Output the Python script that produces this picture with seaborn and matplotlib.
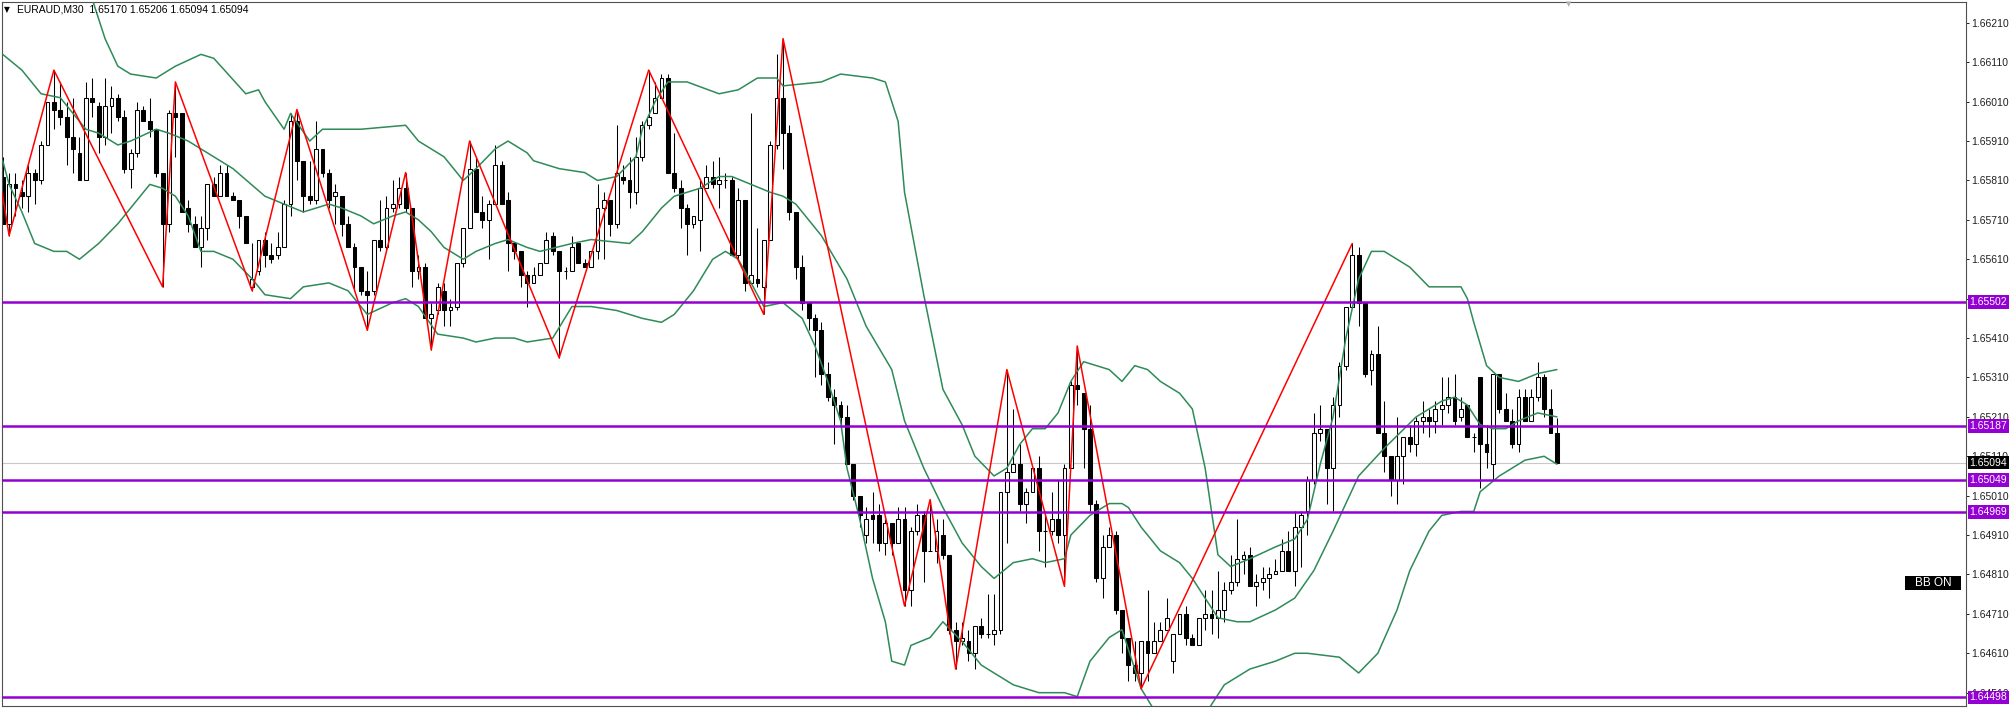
import matplotlib
matplotlib.use("Agg")
import numpy as np
import pandas as pd
import matplotlib.pyplot as plt
import matplotlib.transforms as mtransforms
from matplotlib.patches import Rectangle
import seaborn as sns

# EURAUD M30 candles (oldest -> newest)
opens = [
    1.6582, 1.6570, 1.6580, 1.6578, 1.6577, 1.6583, 1.6581, 1.6590, 1.6601, 1.6599,
    1.6597, 1.6592, 1.6588, 1.6581, 1.6602, 1.6600, 1.6592, 1.6600, 1.6602, 1.6597,
    1.6584, 1.6588, 1.6599, 1.6596, 1.6594, 1.6583, 1.6570, 1.6598, 1.6598, 1.6574,
    1.6570, 1.6564, 1.6569, 1.6580, 1.6577, 1.6583, 1.6577, 1.6576, 1.6572, 1.6554,
    1.6558, 1.6566, 1.6562, 1.6562, 1.6564, 1.6575, 1.6596, 1.6586, 1.6577, 1.6576,
    1.6589, 1.6583, 1.6577, 1.6577, 1.6570, 1.6564, 1.6559, 1.6553, 1.6553, 1.6566,
    1.6564, 1.6574, 1.6575, 1.6579, 1.6574, 1.6558, 1.6559, 1.6546, 1.6548, 1.6553,
    1.6548, 1.6549, 1.6560, 1.6569, 1.6584, 1.6573, 1.6571, 1.6575, 1.6585, 1.6576,
    1.6565, 1.6563, 1.6557, 1.6555, 1.6557, 1.6560, 1.6567, 1.6563, 1.6558, 1.6558,
    1.6565, 1.6560, 1.6559, 1.6563, 1.6574, 1.6576, 1.6570, 1.6582, 1.6581, 1.6578,
    1.6587, 1.6595, 1.6598, 1.6602, 1.6607, 1.6583, 1.6579, 1.6574, 1.6570, 1.6571,
    1.6579, 1.6582, 1.6580, 1.6581, 1.6581, 1.6562, 1.6576, 1.6555, 1.6556, 1.6554,
    1.6566, 1.6590, 1.6602, 1.6593, 1.6573, 1.6559, 1.6550, 1.6546, 1.6543, 1.6532,
    1.6526, 1.6524, 1.6521, 1.6509, 1.6501, 1.6491, 1.6496, 1.6496, 1.6489, 1.6494,
    1.6489, 1.6495, 1.6477, 1.6492, 1.6496, 1.6487, 1.6487, 1.6491, 1.6486, 1.6467,
    1.6464, 1.6464, 1.6461, 1.6468, 1.6466, 1.6466, 1.6467, 1.6502, 1.6507, 1.6509,
    1.6499, 1.6502, 1.6508, 1.6492, 1.6492, 1.6495, 1.6491, 1.6508, 1.6529, 1.6527,
    1.6518, 1.6499, 1.6480, 1.6488, 1.6491, 1.6472, 1.6465, 1.6458, 1.6456, 1.6464,
    1.6461, 1.6464, 1.6467, 1.6459, 1.6466, 1.6471, 1.6465, 1.6463, 1.6470, 1.6471,
    1.6470, 1.6472, 1.6477, 1.6479, 1.6485, 1.6486, 1.6478, 1.6479, 1.6480, 1.6481,
    1.6482, 1.6487, 1.6482, 1.6493, 1.6497, 1.6505, 1.6517, 1.6518, 1.6508, 1.6524,
    1.6534, 1.6549, 1.6562, 1.6550, 1.6533, 1.6537, 1.6517, 1.6511, 1.6505, 1.6511,
    1.6516, 1.6514, 1.6520, 1.6521, 1.6520, 1.6523, 1.6524, 1.6526, 1.6521, 1.6524,
    1.6516, 1.6531, 1.6514, 1.6509, 1.6532, 1.6523, 1.6520, 1.6514, 1.6526, 1.6520,
    1.6526, 1.6531, 1.6523, 1.65170,
]
highs = [
    1.6587, 1.6583, 1.6583, 1.6581, 1.6585, 1.6584, 1.6591, 1.6601, 1.6609, 1.6606,
    1.6601, 1.6602, 1.6592, 1.6606, 1.6607, 1.6601, 1.6607, 1.6605, 1.6603, 1.6599,
    1.6589, 1.6601, 1.6600, 1.6602, 1.6594, 1.6583, 1.6599, 1.6606, 1.6598, 1.6576,
    1.6572, 1.6572, 1.6580, 1.6582, 1.6585, 1.6585, 1.6578, 1.6576, 1.6572, 1.6565,
    1.6566, 1.6568, 1.6565, 1.6568, 1.6576, 1.6598, 1.6599, 1.6586, 1.6586, 1.6596,
    1.6589, 1.6584, 1.6580, 1.6577, 1.6572, 1.6565, 1.6559, 1.6558, 1.6566, 1.6576,
    1.6577, 1.6581, 1.6582, 1.6583, 1.6574, 1.6562, 1.6560, 1.6550, 1.6555, 1.6555,
    1.6551, 1.6560, 1.6569, 1.6591, 1.6587, 1.6577, 1.6576, 1.6590, 1.6586, 1.6578,
    1.6565, 1.6563, 1.6558, 1.6559, 1.6560, 1.6568, 1.6568, 1.6563, 1.6559, 1.6567,
    1.6565, 1.6561, 1.6563, 1.6580, 1.6578, 1.6576, 1.6595, 1.6585, 1.6587, 1.6592,
    1.6596, 1.6609, 1.6606, 1.6608, 1.6608, 1.6593, 1.6581, 1.6575, 1.6572, 1.6581,
    1.6585, 1.6586, 1.6587, 1.6583, 1.6582, 1.6579, 1.6576, 1.6598, 1.6569, 1.6566,
    1.6591, 1.6613, 1.6617, 1.6595, 1.6573, 1.6562, 1.6550, 1.6547, 1.6545, 1.6535,
    1.6528, 1.6525, 1.6524, 1.6509, 1.6501, 1.6498, 1.6502, 1.6499, 1.6495, 1.6494,
    1.6498, 1.6498, 1.6493, 1.6499, 1.6497, 1.6500, 1.6495, 1.6495, 1.6486, 1.6469,
    1.6469, 1.6467, 1.6468, 1.6470, 1.6476, 1.6476, 1.6502, 1.6533, 1.6523, 1.6514,
    1.6503, 1.6508, 1.6511, 1.6497, 1.6502, 1.6505, 1.6509, 1.6530, 1.6539, 1.6527,
    1.6524, 1.6500, 1.6491, 1.6493, 1.6492, 1.6472, 1.6465, 1.6464, 1.6464, 1.6477,
    1.6469, 1.6469, 1.6475, 1.6466, 1.6471, 1.6473, 1.6466, 1.6470, 1.6477, 1.6477,
    1.6482, 1.6479, 1.6486, 1.6495, 1.6487, 1.6488, 1.6481, 1.6483, 1.6483, 1.6485,
    1.6490, 1.6492, 1.6497, 1.6497, 1.6506, 1.6522, 1.6524, 1.6518, 1.6526, 1.6535,
    1.6549, 1.6565, 1.6564, 1.6550, 1.6538, 1.6544, 1.6525, 1.6511, 1.6521, 1.6516,
    1.6519, 1.6521, 1.6525, 1.6523, 1.6525, 1.6531, 1.6531, 1.6532, 1.6526, 1.6524,
    1.6517, 1.6531, 1.6519, 1.6532, 1.6532, 1.6527, 1.6523, 1.6528, 1.6528, 1.6528,
    1.6535, 1.6532, 1.6528, 1.65206,
]
lows = [
    1.6570, 1.6567, 1.6572, 1.6574, 1.6573, 1.6575, 1.6580, 1.6590, 1.6594, 1.6595,
    1.6585, 1.6583, 1.6581, 1.6581, 1.6597, 1.6588, 1.6590, 1.6593, 1.6596, 1.6583,
    1.6579, 1.6587, 1.6596, 1.6592, 1.6582, 1.6554, 1.6568, 1.6587, 1.6573, 1.6568,
    1.6564, 1.6559, 1.6566, 1.6577, 1.6577, 1.6577, 1.6576, 1.6569, 1.6565, 1.6553,
    1.6557, 1.6559, 1.6560, 1.6561, 1.6564, 1.6572, 1.6581, 1.6573, 1.6575, 1.6575,
    1.6582, 1.6574, 1.6570, 1.6567, 1.6564, 1.6553, 1.6552, 1.6543, 1.6552, 1.6563,
    1.6563, 1.6573, 1.6574, 1.6573, 1.6554, 1.6556, 1.6546, 1.6538, 1.6547, 1.6544,
    1.6544, 1.6548, 1.6559, 1.6569, 1.6573, 1.6569, 1.6561, 1.6575, 1.6575, 1.6558,
    1.6561, 1.6554, 1.6549, 1.6555, 1.6557, 1.6560, 1.6562, 1.6536, 1.6556, 1.6558,
    1.6560, 1.6559, 1.6559, 1.6561, 1.6561, 1.6567, 1.6569, 1.6580, 1.6574, 1.6575,
    1.6586, 1.6594, 1.6598, 1.6602, 1.6583, 1.6578, 1.6569, 1.6562, 1.6569, 1.6563,
    1.6579, 1.6579, 1.6574, 1.6579, 1.6562, 1.6561, 1.6553, 1.6555, 1.6554, 1.6547,
    1.6566, 1.6589, 1.6584, 1.6571, 1.6556, 1.6548, 1.6543, 1.6531, 1.6529, 1.6525,
    1.6514, 1.6518, 1.6509, 1.6500, 1.6493, 1.6489, 1.6489, 1.6487, 1.6486, 1.6486,
    1.6489, 1.6473, 1.6473, 1.6491, 1.6479, 1.6487, 1.6484, 1.6485, 1.6466, 1.6457,
    1.6463, 1.6459, 1.6457, 1.6465, 1.6465, 1.6463, 1.6466, 1.6489, 1.6507, 1.6497,
    1.6494, 1.6502, 1.6487, 1.6483, 1.6491, 1.6489, 1.6478, 1.6508, 1.6524, 1.6508,
    1.6497, 1.6479, 1.6475, 1.6488, 1.6471, 1.6461, 1.6454, 1.6454, 1.6452, 1.6454,
    1.6461, 1.6464, 1.6467, 1.6456, 1.6466, 1.6463, 1.6463, 1.6463, 1.6467, 1.6466,
    1.6465, 1.6469, 1.6476, 1.6478, 1.6481, 1.6478, 1.6473, 1.6477, 1.6475, 1.6481,
    1.6482, 1.6482, 1.6478, 1.6483, 1.6491, 1.6504, 1.6515, 1.6499, 1.6497, 1.6521,
    1.6533, 1.6549, 1.6544, 1.6531, 1.6529, 1.6517, 1.6507, 1.6501, 1.6499, 1.6504,
    1.6512, 1.6511, 1.6517, 1.6516, 1.6517, 1.6519, 1.6522, 1.6519, 1.6520, 1.6516,
    1.6512, 1.6503, 1.6508, 1.6505, 1.6522, 1.6520, 1.6513, 1.6512, 1.6520, 1.6520,
    1.6525, 1.6521, 1.6517, 1.65094,
]
closes = [
    1.6570, 1.6580, 1.6579, 1.6577, 1.6583, 1.6581, 1.6590, 1.6601, 1.6599, 1.6597,
    1.6592, 1.6589, 1.6581, 1.6602, 1.6601, 1.6592, 1.6600, 1.6602, 1.6597, 1.6584,
    1.6588, 1.6599, 1.6596, 1.6594, 1.6583, 1.6570, 1.6598, 1.6597, 1.6573, 1.6570,
    1.6564, 1.6569, 1.6580, 1.6577, 1.6583, 1.6577, 1.6576, 1.6572, 1.6565, 1.6556,
    1.6566, 1.6562, 1.6561, 1.6564, 1.6575, 1.6596, 1.6586, 1.6577, 1.6576, 1.6589,
    1.6583, 1.6576, 1.6578, 1.6570, 1.6564, 1.6559, 1.6553, 1.6552, 1.6566, 1.6564,
    1.6574, 1.6575, 1.6579, 1.6574, 1.6558, 1.6559, 1.6546, 1.6547, 1.6554, 1.6548,
    1.6549, 1.6560, 1.6569, 1.6584, 1.6573, 1.6571, 1.6575, 1.6585, 1.6575, 1.6565,
    1.6563, 1.6557, 1.6555, 1.6557, 1.6560, 1.6566, 1.6563, 1.6558, 1.6558, 1.6564,
    1.6560, 1.6559, 1.6563, 1.6574, 1.6576, 1.6570, 1.6583, 1.6581, 1.6578, 1.6587,
    1.6595, 1.6597, 1.6602, 1.6607, 1.6583, 1.6579, 1.6574, 1.6570, 1.6572, 1.6579,
    1.6582, 1.6580, 1.6581, 1.6581, 1.6562, 1.6576, 1.6555, 1.6557, 1.6555, 1.6566,
    1.6590, 1.6602, 1.6593, 1.6573, 1.6559, 1.6550, 1.6546, 1.6543, 1.6532, 1.6526,
    1.6524, 1.6521, 1.6509, 1.6501, 1.6496, 1.6495, 1.6495, 1.6489, 1.6494, 1.6489,
    1.6495, 1.6477, 1.6492, 1.6496, 1.6487, 1.6487, 1.6492, 1.6486, 1.6467, 1.6464,
    1.6465, 1.6461, 1.6468, 1.6466, 1.6466, 1.6467, 1.6502, 1.6507, 1.6509, 1.6499,
    1.6502, 1.6508, 1.6492, 1.6492, 1.6495, 1.6491, 1.6508, 1.6529, 1.6528, 1.6518,
    1.6499, 1.6480, 1.6488, 1.6491, 1.6472, 1.6465, 1.6458, 1.6456, 1.6464, 1.6461,
    1.6464, 1.6467, 1.6470, 1.6466, 1.6471, 1.6465, 1.6463, 1.6470, 1.6471, 1.6470,
    1.6472, 1.6477, 1.6479, 1.6485, 1.6486, 1.6478, 1.6479, 1.6480, 1.6481, 1.6482,
    1.6487, 1.6482, 1.6493, 1.6496, 1.6505, 1.6517, 1.6518, 1.6508, 1.6524, 1.6534,
    1.6549, 1.6562, 1.6550, 1.6532, 1.6537, 1.6517, 1.6511, 1.6505, 1.6511, 1.6516,
    1.6514, 1.6520, 1.6521, 1.6520, 1.6523, 1.6524, 1.6526, 1.6520, 1.6523, 1.6516,
    1.6516, 1.6514, 1.6512, 1.6532, 1.6523, 1.6520, 1.6514, 1.6526, 1.6520, 1.6526,
    1.6531, 1.6523, 1.6517, 1.65094,
]

# Bollinger bands (read at sample bars)
upper_bar = [0, 7, 14, 16, 18, 20, 24, 27, 31, 33, 38, 40, 41, 44, 45, 48, 50, 56, 63, 65,
             69, 72, 74, 77, 79, 82, 83, 87, 91, 93, 96, 99, 100, 102, 104, 107, 112, 115, 118, 121,
             122, 128, 131, 136, 138, 140, 141, 144, 147, 150, 152, 155, 157, 159, 161, 163, 165, 167, 169, 173,
             175, 177, 179, 181, 184, 186, 188, 190, 192, 195, 199, 202, 204, 206, 208, 210, 212, 214, 216, 220,
             223, 228, 229, 230, 232, 234, 237, 240, 243]
upper = [1.6640, 1.6642, 1.6627, 1.6617, 1.6610, 1.6608, 1.6607, 1.6610, 1.6613, 1.6612,
         1.6603, 1.6604, 1.6601, 1.6594, 1.6598, 1.6591, 1.6594, 1.6594, 1.6595, 1.6591,
         1.6587, 1.6581, 1.6584, 1.6589, 1.6591, 1.6588, 1.6586, 1.6584, 1.6583, 1.6581,
         1.6582, 1.6587, 1.6594, 1.6601, 1.6606, 1.6606, 1.6603, 1.6604, 1.6607, 1.6607,
         1.6605, 1.6606, 1.6608, 1.6607, 1.6606, 1.6596, 1.6578, 1.6552, 1.6528, 1.6519,
         1.6511, 1.6506, 1.6508, 1.6514, 1.6518, 1.6518, 1.6522, 1.6530, 1.6535, 1.6533,
         1.6530, 1.6534, 1.6533, 1.6530, 1.6527, 1.6523, 1.6508, 1.6486, 1.6483, 1.6485,
         1.6488, 1.6490, 1.6495, 1.6509, 1.6521, 1.6541, 1.6556, 1.6563, 1.6563, 1.6559,
         1.6554, 1.6554, 1.6551, 1.6545, 1.6534, 1.6531, 1.6530, 1.6532, 1.6533]
mid_bar = [0, 3, 6, 9, 13, 15, 18, 20, 24, 26, 29, 33, 36, 41, 47, 51, 53, 56, 58, 61,
           63, 65, 67, 69, 72, 74, 77, 79, 82, 84, 89, 92, 98, 100, 103, 105, 109, 112, 114, 117,
           120, 122, 124, 128, 132, 135, 139, 141, 144, 147, 150, 153, 155, 158, 161, 163, 166, 167, 170, 173,
           175, 176, 178, 181, 184, 186, 188, 190, 193, 195, 199, 202, 205, 208, 212, 216, 221, 225, 227, 229,
           231, 233, 235, 237, 240, 243]
mid = [1.6613, 1.6609, 1.6603, 1.6602, 1.6594, 1.6593, 1.6590, 1.6591, 1.6594, 1.6593,
       1.6591, 1.6587, 1.6584, 1.6577, 1.6573, 1.6575, 1.6574, 1.6572, 1.6570, 1.6572,
       1.6573, 1.6571, 1.6568, 1.6564, 1.6561, 1.6563, 1.6565, 1.6566, 1.6564, 1.6563,
       1.6565, 1.6566, 1.6565, 1.6568, 1.6574, 1.6577, 1.6579, 1.6582, 1.6582, 1.6580,
       1.6578, 1.6577, 1.6575, 1.6567, 1.6556, 1.6544, 1.6533, 1.6520, 1.6508, 1.6498,
       1.6489, 1.6483, 1.6480, 1.6484, 1.6485, 1.6484, 1.6485, 1.6491, 1.6496, 1.6499,
       1.6499, 1.6498, 1.6493, 1.6487, 1.6484, 1.6480, 1.6475, 1.6470, 1.6469, 1.6469,
       1.6472, 1.6475, 1.6482, 1.6492, 1.6506, 1.6513, 1.6521, 1.6525, 1.6526, 1.6524,
       1.6519, 1.6518, 1.6518, 1.6520, 1.6522, 1.6521]
lower_bar = [0, 1, 3, 5, 8, 10, 12, 15, 18, 20, 23, 25, 27, 29, 31, 33, 36, 39, 41, 45,
             47, 51, 54, 56, 57, 61, 63, 65, 68, 72, 74, 77, 80, 82, 86, 89, 92, 96, 100, 103,
             105, 108, 111, 113, 115, 117, 119, 122, 125, 127, 129, 131, 132, 134, 136, 138, 139, 141, 142, 145,
             147, 150, 153, 158, 162, 166, 168, 170, 173, 175, 178, 181, 186, 189, 191, 193, 195, 199, 202, 204,
             209, 212, 215, 218, 220, 223, 225, 228, 230, 231, 234, 236, 238, 241, 243]
lower = [1.6586, 1.6580, 1.6573, 1.6565, 1.6563, 1.6563, 1.6561, 1.6565, 1.6570, 1.6574,
         1.6580, 1.6579, 1.6577, 1.6572, 1.6563, 1.6563, 1.6561, 1.6556, 1.6552, 1.6551,
         1.6554, 1.6555, 1.6553, 1.6549, 1.6547, 1.6550, 1.6551, 1.6549, 1.6542, 1.6541,
         1.6540, 1.6541, 1.6541, 1.6540, 1.6541, 1.6549, 1.6549, 1.6548, 1.6546, 1.6545,
         1.6547, 1.6553, 1.6561, 1.6563, 1.6561, 1.6555, 1.6549, 1.6550, 1.6546, 1.6539,
         1.6530, 1.6520, 1.6508, 1.6495, 1.6480, 1.6469, 1.6459, 1.6458, 1.6463, 1.6465,
         1.6469, 1.6464, 1.6458, 1.6453, 1.6451, 1.6451, 1.6450, 1.6459, 1.6465, 1.6467,
         1.6452, 1.6444, 1.6439, 1.6448, 1.6453, 1.6455, 1.6457, 1.6459, 1.6461, 1.6461,
         1.6460, 1.6456, 1.6461, 1.6472, 1.6482, 1.6492, 1.6496, 1.6497, 1.6497, 1.6502,
         1.6506, 1.6508, 1.6510, 1.6511, 1.6509]

# zigzag pivots
zz_bar = [-0.1, 1, 8, 25, 27, 39, 46, 57, 63, 67, 73, 87, 101, 119, 122, 141, 145, 149, 157, 166, 168, 178, 211]
zz_price = [1.6578, 1.6567, 1.6609, 1.6554, 1.6606, 1.6553, 1.6599, 1.6543, 1.6583, 1.6538, 1.6591, 1.6536,
            1.6609, 1.6547, 1.6617, 1.6473, 1.6500, 1.6457, 1.6533, 1.6478, 1.6539, 1.6452, 1.6565]

levels = [1.65502, 1.65187, 1.65049, 1.64969, 1.64498]
last_price = 1.65094
y_ticks = [1.66210, 1.66110, 1.66010, 1.65910, 1.65810, 1.65710, 1.65610, 1.65510, 1.65410,
           1.65310, 1.65210, 1.65110, 1.65010, 1.64910, 1.64810, 1.64710, 1.64610, 1.64510]
title = "EURAUD,M30  1.65170 1.65206 1.65094 1.65094"

df = pd.DataFrame({"open": opens, "high": highs, "low": lows, "close": closes})
df["bar"] = np.arange(len(df))
df["up"] = df["close"] >= df["open"]

sns.set_style("white")
plt.rcParams["font.family"] = ["Liberation Sans", "DejaVu Sans"]

fig = plt.figure(figsize=(20.13, 7.12), dpi=100)
ax = fig.add_axes([2 / 2013, 6 / 712, 1964 / 2013, 704 / 712])

# candles
ax.vlines(df["bar"], df["low"], df["high"], color="black", lw=0.75, zorder=2)
ax.bar(df["bar"], df["close"] - df["open"], bottom=df["open"], width=0.6,
       color=np.where(df["up"], "white", "black"), edgecolor="black", linewidth=0.75, zorder=2)

# bollinger bands + zigzag
green = "#2E8B57"
for xs, ys in [(upper_bar, upper), (mid_bar, mid), (lower_bar, lower)]:
    sns.lineplot(x=xs, y=ys, ax=ax, color=green, lw=1.1, estimator=None, sort=False,
                 legend=False, zorder=3)
sns.lineplot(x=zz_bar, y=zz_price, ax=ax, color="#FF0000", lw=1.1, estimator=None,
             sort=False, legend=False, zorder=3)

# levels
trans = mtransforms.blended_transform_factory(ax.transAxes, ax.transData)
ax.axhline(last_price, color="#C8C8C8", lw=0.8, zorder=1)
for v in levels:
    ax.axhline(v, color="#9400D3", lw=1.8, zorder=4)
    ax.annotate(f"{v:.5f}", xy=(1, v), xycoords=trans, xytext=(2.6, 0), textcoords="offset points",
                color="white", fontsize=7.5, va="center", ha="left", annotation_clip=False,
                bbox=dict(boxstyle="square,pad=0.18", fc="#9400D3", ec="none"), zorder=6)
ax.annotate(f"{last_price:.5f}", xy=(1, last_price), xycoords=trans, xytext=(2.6, 0),
            textcoords="offset points", color="white", fontsize=7.5, va="center", ha="left",
            annotation_clip=False, bbox=dict(boxstyle="square,pad=0.18", fc="black", ec="none"), zorder=6)

# axes
ax.set_xlim(-0.11, 306.96)
ax.set_ylim(1.644762, 1.662629)
ax.set_xticks([])
ax.yaxis.tick_right()
ax.set_yticks(y_ticks)
ax.set_yticklabels([f"{t:.5f}" for t in y_ticks])
ax.tick_params(axis="y", length=2.2, width=0.7, pad=1.5, labelsize=7.5, colors="#202020", right=True)
for side in ["left", "right", "top", "bottom"]:
    ax.spines[side].set_color("#505050")
    ax.spines[side].set_linewidth(0.8)
ax.set_xlabel("")
ax.set_ylabel("")

# header text and labels
fig.text(4 / 2013, 1 - 10 / 712, "\u25BC", fontsize=5.5, color="black", va="center", ha="left",
         family=["DejaVu Sans"])
fig.text(17 / 2013, 1 - 10 / 712, title, fontsize=7.5, color="black", va="center", ha="left")
fig.text(1569 / 2013, 1 - 4 / 712, "\u25BC", fontsize=5, color="#B0B0B0", va="center", ha="center",
         family=["DejaVu Sans"])
fig.patches.append(Rectangle((1905 / 2013, 1 - 590 / 712), 56 / 2013, 14 / 712,
                             transform=fig.transFigure, fc="black", ec="none", zorder=5))
fig.text(1933 / 2013, 1 - 583 / 712, "BB ON", fontsize=8.5, color="white", va="center", ha="center",
         zorder=6)

fig.savefig("out.png", dpi=100, facecolor="white")
